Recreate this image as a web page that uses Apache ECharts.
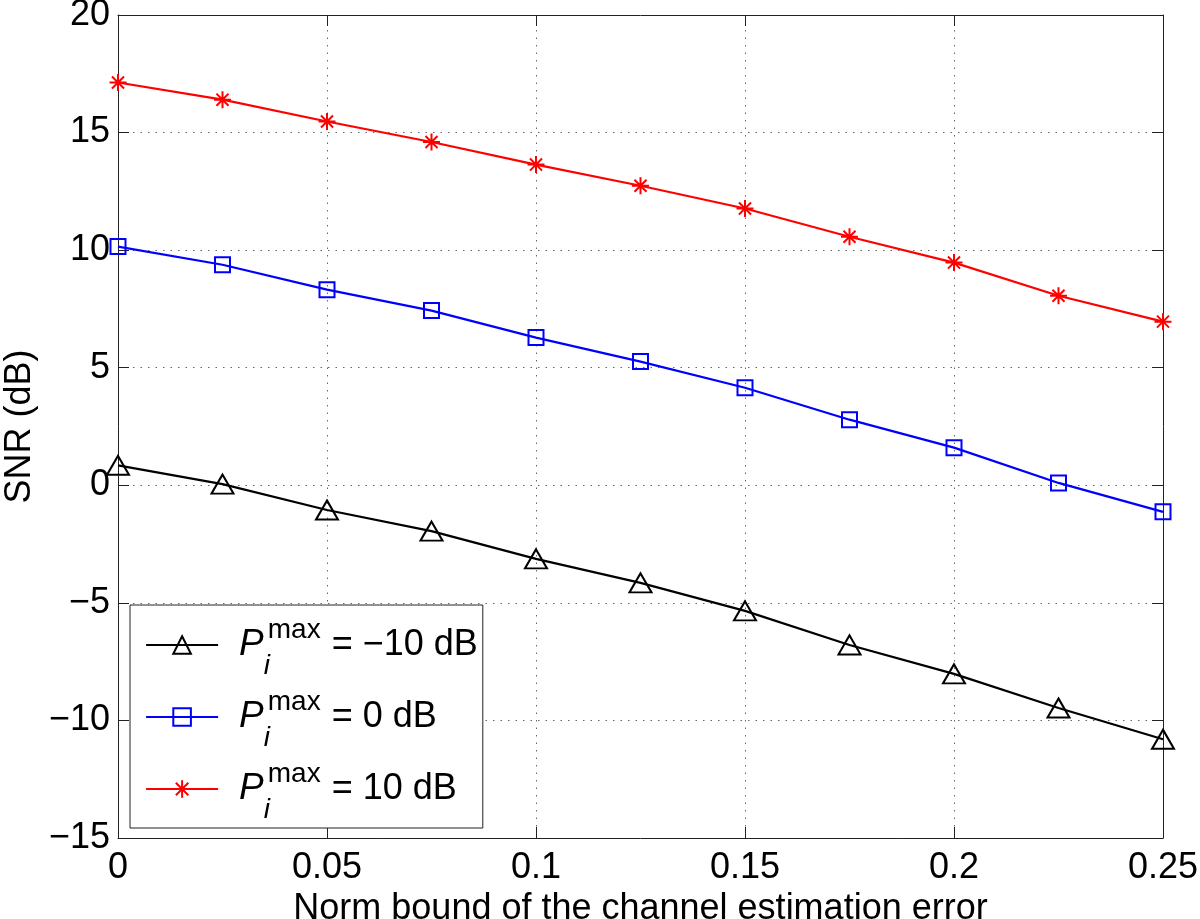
<!DOCTYPE html>
<html>
<head>
<meta charset="utf-8">
<script src="https://cdn.jsdelivr.net/npm/echarts@6/dist/echarts.min.js"></script>
<style>html,body{margin:0;padding:0;background:#fff}#c{width:1200px;height:919px}</style>
</head>
<body>
<div id="c"></div>
<script>
const xValues = [0, 0.025, 0.05, 0.075, 0.1, 0.125, 0.15, 0.175, 0.2, 0.225, 0.25];
const snrMinus10 = [0.85, 0.05, -1.05, -1.95, -3.13, -4.15, -5.34, -6.79, -8.02, -9.47, -10.8];
const snr0 = [10.15, 9.38, 8.32, 7.43, 6.28, 5.26, 4.15, 2.79, 1.6, 0.1, -1.13];
const snr10 = [17.13, 16.4, 15.47, 14.6, 13.64, 12.74, 11.77, 10.57, 9.47, 8.06, 6.96];
const seriesLabels = ['= \u221210 dB', '= 0 dB', '= 10 dB'];
const xTitle = 'Norm bound of the channel estimation error';
const yTitle = 'SNR (dB)';

const FONT = '"Liberation Sans", Arial, Helvetica, sans-serif';
const star = 'path://M0,-1L0,1M-1,0L1,0M-0.71,-0.71L0.71,0.71M-0.71,0.71L0.71,-0.71';
const pairs = a => xValues.map((x, i) => [x, a[i]]);
const fmtMinus = v => String(v).replace('-', '\u2212');

const chart = echarts.init(document.getElementById('c'), null, {renderer: 'canvas'});
const axisLine = {show: true, onZero: false, lineStyle: {color: '#222', width: 1}};
const gridLine = {show: true, lineStyle: {color: '#666', width: 1, type: [1.5, 6]}};
const tick = {show: true, inside: true, length: 11, lineStyle: {color: '#222'}};
const mkSeries = (name, data, color, symbol, size, fill) => ({
  name, type: 'line', data: pairs(data), symbol, symbolSize: size,
  showAllSymbol: true,
  lineStyle: {color, width: 2.2},
  itemStyle: {color: fill, borderColor: color, borderWidth: 2},
  emphasis: {disabled: true},
  z: 3
});
chart.setOption({
  animation: false,
  backgroundColor: '#fff',
  grid: {left: 118, right: 37, top: 15, bottom: 81, containLabel: false, outerBoundsMode: 'none'},
  xAxis: [{
    type: 'value', min: 0, max: 0.25, interval: 0.05,
    axisLine, axisTick: tick, splitLine: gridLine,
    axisLabel: {color: '#000', fontFamily: FONT, fontSize: 36, margin: 12},
    name: xTitle, nameLocation: 'middle', nameGap: 46,
    nameTextStyle: {color: '#000', fontFamily: FONT, fontSize: 36}
  }, {
    type: 'value', position: 'top', min: 0, max: 0.25, interval: 0.05,
    axisLine, axisTick: tick, splitLine: {show: false}, axisLabel: {show: false}
  }],
  yAxis: [{
    type: 'value', min: -15, max: 20, interval: 5,
    axisLine, axisTick: tick, splitLine: gridLine,
    axisLabel: {color: '#000', fontFamily: FONT, fontSize: 36, margin: 8, formatter: fmtMinus},
    name: yTitle, nameLocation: 'middle', nameGap: 78,
    nameTextStyle: {color: '#000', fontFamily: FONT, fontSize: 36}
  }, {
    type: 'value', position: 'right', min: -15, max: 20, interval: 5,
    axisLine, axisTick: tick, splitLine: {show: false}, axisLabel: {show: false}
  }],
  legend: {
    orient: 'vertical', left: 130, top: 605,
    padding: [11, 5, 4, 15], itemGap: 8,
    itemWidth: 72, itemHeight: 22,
    backgroundColor: '#fff', borderColor: '#222', borderWidth: 1, borderRadius: 0,
    selectedMode: false,
    lineStyle: {width: 2.2},
    data: ['m10', 'z0', 'p10'],
    formatter: n => {
      const idx = {m10: 0, z0: 1, p10: 2}[n];
      return '{p|P}{sub|i}{sup|max}{t|' + seriesLabels[idx] + '}';
    },
    textStyle: {
      color: '#000', fontFamily: FONT,
      rich: {
        p: {fontSize: 37, fontStyle: 'italic', fontFamily: FONT, padding: [0, 0, 0, 16]},
        sub: {fontSize: 28, fontStyle: 'italic', fontFamily: FONT, padding: [42, 0, 0, 0], width: 4},
        sup: {fontSize: 28, fontFamily: FONT, padding: [0, 0, 30, 0]},
        t: {fontSize: 36, fontFamily: FONT, padding: [0, 0, 0, 11]}
      }
    }
  },
  series: [
    mkSeries('m10', snrMinus10, '#000000', 'triangle', [22, 19], 'rgba(0,0,0,0)'),
    mkSeries('z0', snr0, '#0000ff', 'rect', 15, 'rgba(0,0,0,0)'),
    mkSeries('p10', snr10, '#ff0000', star, 17, '#ff0000')
  ]
});
</script>
</body>
</html>
